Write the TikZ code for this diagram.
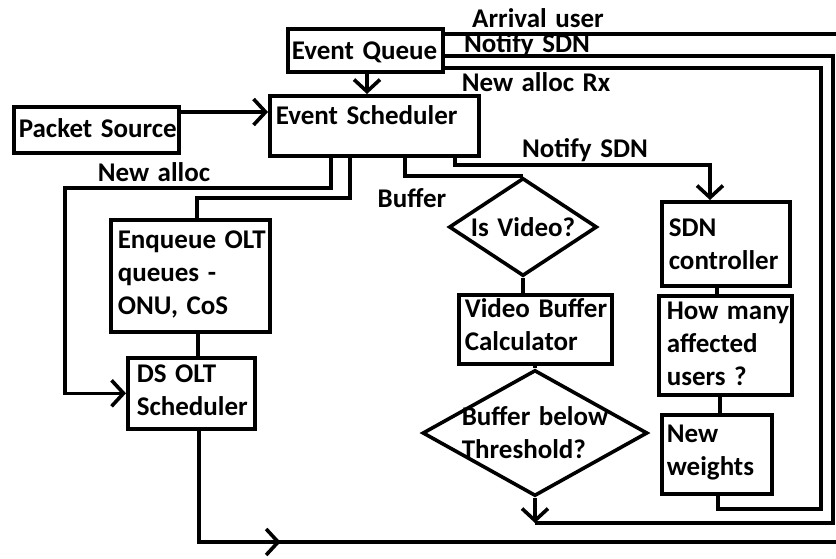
\documentclass[tikz,border=0pt]{standalone}
\usepackage{fontspec}
\setmainfont[WordSpace=1.4]{Carlito}
\usetikzlibrary{arrows.meta, decorations.markings, shapes.geometric}
\tikzset{
    blk/.style={draw, anchor=north west, inner ysep=0pt, align=flush left},
    dmd/.style={draw, diamond, aspect=1.8, inner sep=-10pt, align=left},
    lbl/.style={inner sep=0pt},
    midarrow/.style={
        decoration={
            markings,
            mark= at position #1 with {\arrow{>}}
        },
        postaction={decorate}
    }
}
\begin{document}
\begin{tikzpicture}[x=1pt, y=-1pt, line width=3.6pt,
    >={Straight Barb[length=12pt,width=26pt]}]
    \tikzstyle{every node}=[font=\bfseries\fontsize{27}{33}\selectfont];
    \useasboundingbox (0,0) rectangle (836,558);
    % blocks
    \node[blk, inner xsep=4pt, text width=147pt, text height=31pt, text depth=12pt] (eq) at (286,27) {\mbox{Event Queue}};
    \node[blk, inner xsep=6pt, text width=197pt, text height=29pt, text depth=31pt] (es) at (268,94) {\mbox{Event Scheduler}};
    \node[blk, inner xsep=5pt, text width=155pt, text height=31pt, text depth=15pt] (ps) at (12,105) {\mbox{Packet Source}};
    \node[blk, inner xsep=7pt, text width=145pt, text height=29pt, text depth=83pt] (enq) at (109,218) {\mbox{Enqueue OLT}\\queues~-\\ONU,~CoS};
    \node[blk, inner xsep=9pt, text width=109pt, text height=25pt, text depth=46pt] (ds) at (126,356) {DS~OLT\\Scheduler};
    \node[blk, inner xsep=6pt, text width=141pt, text height=23pt, text depth=46pt] (vbc) at (457,293) {\mbox{Video Buffer}\\Calculator};
    \node[blk, inner xsep=7pt, text width=114pt, text height=35pt, text depth=49pt] (sdn) at (660,200) {SDN\\controller};
    \node[blk, inner xsep=8pt, text width=117pt, text height=24pt, text depth=75pt] (hm) at (657,294) {\mbox{How many}\\affected\\users~?};
    \node[blk, inner xsep=5pt, text width=100pt, text height=28pt, text depth=51pt] (nw) at (660,413) {New\\weights};
    \node[dmd, minimum width=148pt, minimum height=98pt] (isv) at (523,227) {Is~Video?};
    \node[dmd, minimum width=225pt, minimum height=126pt] (bbt) at (535,433) {Buffer~below\\Threshold?};
    % labels
    \node[lbl] (arrusr) at (538,18) {Arrival user};
    \node[lbl] (ntfa) at (527,45) {Notify SDN};
    \node[lbl] (nalrx) at (536,82) {New alloc Rx};
    \node[lbl] (nal) at (154,172) {New alloc};
    \node[lbl] (buf) at (412,198) {Buffer};
    \node[lbl] (ntfb) at (585,150) {Notify SDN};
    % free ends and bends
    \coordinate (outa) at (836,34);
    \coordinate (outb) at (836,542);
    \coordinate (thr) at (535,523);
    % connectors
    \draw[->] (eq.south -| 367,0) -- (es.north -| 367,0);
    \draw[->] (ps.east |- 0,112) -- (es.west |- 0,112);
    \draw[->] (es.south -| 331,0) -- (331,188) -- (65,188) |- (ds.west);
    \draw (es.south -| 350,0) -- (350,198) -| (enq.north -| 197,0);
    \draw (enq.south -| 198,0) -- (ds.north -| 198,0);
    \draw[midarrow=193pt] (ds.south -| 199,0) |- (outb);
    \draw (es.south -| 405,0) |- (isv.north);
    \draw[->] (es.south -| 455,0) -- (455,165) -| (sdn.north -| 710,0);
    \draw (isv.south) -- (vbc.north -| isv.south);
    \draw (vbc.south -| bbt.north) -- (bbt.north);
    \draw (sdn.south -| 717,0) -- (hm.north -| 717,0);
    \draw (hm.south -| 720,0) -- (nw.north -| 720,0);
    \draw[->] (bbt.south) -- (thr);
    \draw (thr) -- (833,523) -- (833,56) -- (eq.east |- 0,56);
    \draw (nw.south -| 718,0) -- (718,509) -- (821,509) -- (821,68) -- (eq.east |- 0,68);
    \draw (eq.east |- 0,34) -- (outa);
\end{tikzpicture}
\end{document}
